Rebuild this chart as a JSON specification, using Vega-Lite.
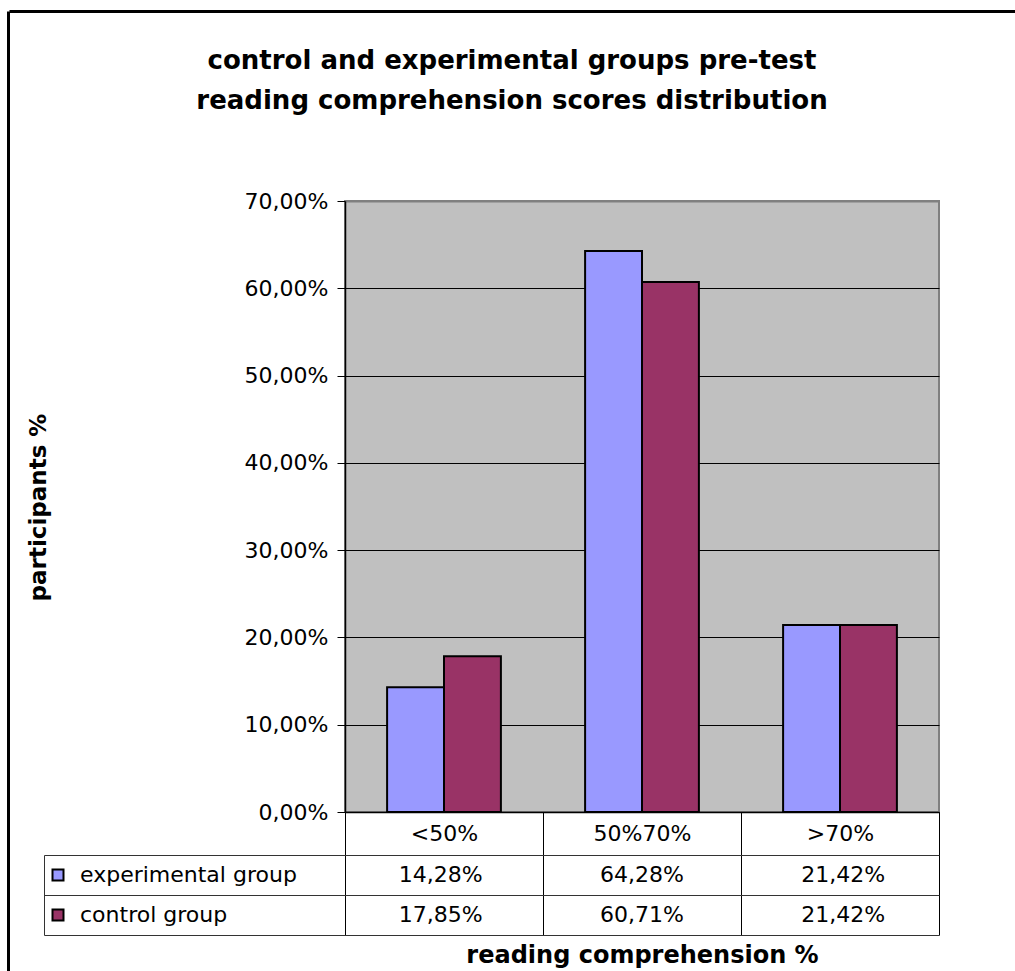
{
  "$schema": "https://vega.github.io/schema/vega-lite/v6.json",
  "width": 594,
  "height": 611,
  "autosize": {"type": "none"},
  "padding": {"left": 345, "top": 201, "right": 76, "bottom": 159},
  "background": "white",
  "title": {
    "text": ["control and experimental groups pre-test", "reading comprehension scores distribution"],
    "font": "DejaVu Sans",
    "fontSize": 26,
    "fontWeight": "bold",
    "color": "black",
    "anchor": "middle",
    "frame": "group",
    "dx": -130,
    "offset": -117.5,
    "baseline": "middle",
    "lineHeight": 40
  },
  "data": {
    "values": [
      {"category": "<50%", "series": "experimental group", "value": 0.1428},
      {"category": "<50%", "series": "control group", "value": 0.1785},
      {"category": "50%70%", "series": "experimental group", "value": 0.6428},
      {"category": "50%70%", "series": "control group", "value": 0.6071},
      {"category": ">70%", "series": "experimental group", "value": 0.2142},
      {"category": ">70%", "series": "control group", "value": 0.2142}
    ]
  },
  "layer": [
    {
      "mark": {"type": "bar", "stroke": "black", "strokeWidth": 2},
      "encoding": {
        "x": {
          "field": "category",
          "type": "nominal",
          "scale": {"type": "band", "domain": ["<50%", "50%70%", ">70%"], "paddingInner": 0, "paddingOuter": 0},
          "axis": {
            "orient": "bottom",
            "title": "reading comprehension %",
            "titleFont": "DejaVu Sans",
            "titleFontSize": 24,
            "titleFontWeight": "bold",
            "titleColor": "black",
            "titleY": 143,
            "titleBaseline": "middle",
            "domainColor": "black",
            "domainWidth": 1.5,
            "tickBand": "extent",
            "tickSize": 123,
            "tickColor": "black",
            "labelAngle": 0,
            "labelFont": "DejaVu Sans",
            "labelFontSize": 22,
            "labelColor": "black",
            "labelPadding": -101.5,
            "labelBaseline": "middle",
            "grid": false
          }
        },
        "xOffset": {
          "field": "series",
          "type": "nominal",
          "scale": {"domain": ["experimental group", "control group"], "paddingInner": 0, "paddingOuter": 0.74}
        },
        "y": {
          "field": "value",
          "type": "quantitative",
          "scale": {"domain": [0, 0.7], "nice": false, "zero": true},
          "axis": {
            "orient": "left",
            "values": [0, 0.1, 0.2, 0.3, 0.4, 0.5, 0.6, 0.7],
            "format": ".2%",
            "title": "participants %",
            "titleFont": "DejaVu Sans",
            "titleFontSize": 23,
            "titleFontWeight": "bold",
            "titleColor": "black",
            "titleAngle": -90,
            "titleX": -307,
            "titleY": 306,
            "titleBaseline": "middle",
            "titleAlign": "center",
            "domainColor": "black",
            "domainWidth": 1.5,
            "tickColor": "black",
            "tickSize": 8,
            "labelFont": "DejaVu Sans",
            "labelFontSize": 22,
            "labelColor": "black",
            "labelPadding": 9,
            "labelFlush": false,
            "labelOverlap": false,
            "grid": true,
            "gridColor": {"condition": {"test": "datum.value >= 0.69", "value": "#808080"}, "value": "black"},
            "gridWidth": {"condition": {"test": "datum.value >= 0.69", "value": 2}, "value": 1}
          }
        },
        "color": {
          "field": "series",
          "type": "nominal",
          "scale": {"domain": ["experimental group", "control group"], "range": ["#9999FF", "#993366"]},
          "legend": {
            "orient": "none",
            "legendX": -298,
            "legendY": 663,
            "title": null,
            "padding": 0,
            "symbolType": "square",
            "symbolSize": 121,
            "symbolStrokeColor": "black",
            "symbolStrokeWidth": 2,
            "symbolOpacity": 1,
            "labelFont": "DejaVu Sans",
            "labelFontSize": 22,
            "labelColor": "black",
            "labelOffset": 11,
            "labelLimit": 0,
            "rowPadding": 18
          }
        }
      }
    },
    {
      "mark": {"type": "text", "font": "DejaVu Sans", "fontSize": 22, "color": "black"},
      "encoding": {
        "x": {
          "field": "category",
          "type": "nominal",
          "scale": {"type": "band", "domain": ["<50%", "50%70%", ">70%"], "range": [-336, 670], "paddingInner": 0, "paddingOuter": 1, "align": 0.82306},
          "axis": {
            "orient": "top",
            "offset": 190,
            "title": null,
            "labels": false,
            "grid": false,
            "domainColor": "black",
            "domainWidth": 3,
            "bandPosition": 0,
            "tickOffset": -332,
            "tickSize": -960,
            "tickWidth": 3,
            "tickColor": "black",
            "tickOpacity": {"condition": {"test": "datum.value === '<50%'", "value": 1}, "value": 0}
          }
        },
        "y": {
          "field": "series",
          "type": "nominal",
          "scale": {"type": "band", "domain": ["experimental group", "control group"], "range": [654, 734], "paddingInner": 0, "paddingOuter": 0},
          "axis": {
            "orient": "left",
            "offset": 301,
            "title": null,
            "labels": false,
            "grid": false,
            "domainColor": "#333333",
            "tickBand": "extent",
            "tickSize": -895,
            "tickColor": "#333333"
          }
        },
        "text": {"field": "value", "type": "quantitative", "format": ".2%"}
      }
    }
  ],
  "resolve": {
    "scale": {"x": "independent", "y": "independent"},
    "axis": {"x": "independent", "y": "independent"}
  },
  "config": {
    "locale": {"number": {"decimal": ",", "thousands": ".", "grouping": [3], "currency": ["", " €"]}},
    "view": {"fill": "#C0C0C0", "stroke": "#808080", "strokeWidth": 2}
  }
}
